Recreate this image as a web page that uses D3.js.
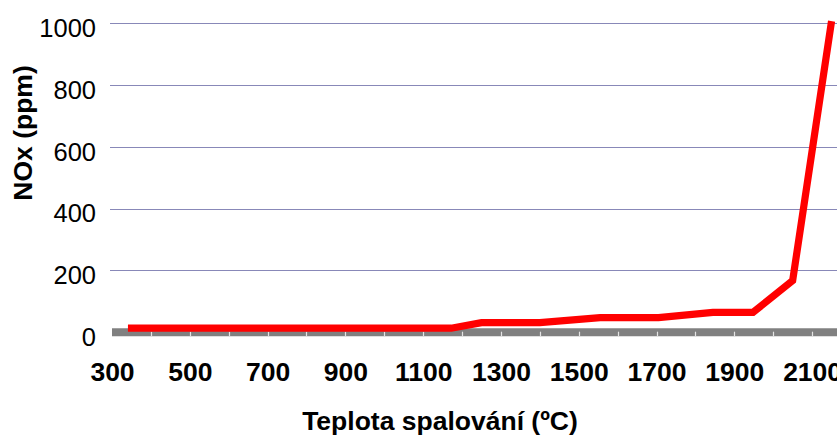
<!DOCTYPE html>
<html><head><meta charset="utf-8">
<script src="https://cdn.jsdelivr.net/npm/d3@7"></script>
<style>html,body{margin:0;padding:0;background:#fff;overflow:hidden}</style>
</head><body><svg id="c" width="837" height="437"></svg>
<script>
const temps = [341, 1172, 1250, 1400, 1555, 1705, 1845, 1948, 2050, 2150];
const nox = [13, 13, 31, 31, 47, 47, 64, 64, 167, 1007];
const xTickLabels = [300, 500, 700, 900, 1100, 1300, 1500, 1700, 1900, 2100];
const yTickLabels = [0, 200, 400, 600, 800, 1000];
const minorTicks = d3.range(400, 2300, 100);

const svg = d3.select("#c");
const font = "'Liberation Sans', Arial, sans-serif";
const x = d3.scaleLinear().domain([300, 2200]).range([112, 851]);
const y = d3.scaleLinear().domain([0, 1000]).range([332.2, 23.3]);

// gridlines
svg.append("g").selectAll("line").data(yTickLabels.filter(d => d > 0)).join("line")
  .attr("x1", 110).attr("x2", 837)
  .attr("y1", d => Math.round(y(d)) + 0.5).attr("y2", d => Math.round(y(d)) + 0.5)
  .attr("stroke", "#8888b8").attr("stroke-width", 1);

// y axis labels
const yAxis = d3.axisLeft(y).tickValues(yTickLabels).tickSize(0).tickPadding(0).tickFormat(d3.format("d"));
const gy = svg.append("g").attr("transform", "translate(96,5)").call(yAxis);
gy.select(".domain").remove();
gy.selectAll("text").attr("font-family", font).attr("font-size", 25.5).attr("fill", "#000").attr("dy", "0.32em");

// baseline band
svg.append("line").attr("x1", x(300)).attr("x2", 837).attr("y1", y(0)).attr("y2", y(0))
  .attr("stroke", "#808080").attr("stroke-width", 8);
svg.append("g").selectAll("line").data(minorTicks).join("line")
  .attr("x1", d => Math.round(x(d)) + 0.5).attr("x2", d => Math.round(x(d)) + 0.5)
  .attr("y1", y(0) - 0.5).attr("y2", y(0) + 4)
  .attr("stroke", "#e4e4e4").attr("stroke-width", 1.2);

// x axis labels
const xAxis = d3.axisBottom(x).tickValues(xTickLabels).tickSize(0).tickPadding(0).tickFormat(d3.format("d"));
const gx = svg.append("g").attr("transform", "translate(0,362)").call(xAxis);
gx.select(".domain").remove();
gx.selectAll("text").attr("font-family", font).attr("font-size", 26.5).attr("font-weight", "bold")
  .attr("fill", "#000").attr("dy", "0.72em");

// line
const line = d3.line().x((d, i) => x(temps[i])).y(d => y(d));
svg.append("path").datum(nox).attr("d", line)
  .attr("fill", "none").attr("stroke", "#ff0000").attr("stroke-width", 7.2)
  .attr("stroke-linejoin", "miter");

// titles
svg.append("text").attr("x", 440).attr("y", 430).attr("text-anchor", "middle")
  .attr("font-family", font).attr("font-size", 26.5).attr("font-weight", "bold")
  .text("Teplota spalování (ºC)");
svg.append("text").attr("transform", "translate(32,133) rotate(-90)").attr("text-anchor", "middle")
  .attr("font-family", font).attr("font-size", 26.5).attr("font-weight", "bold")
  .text("NOx (ppm)");
</script></body></html>
